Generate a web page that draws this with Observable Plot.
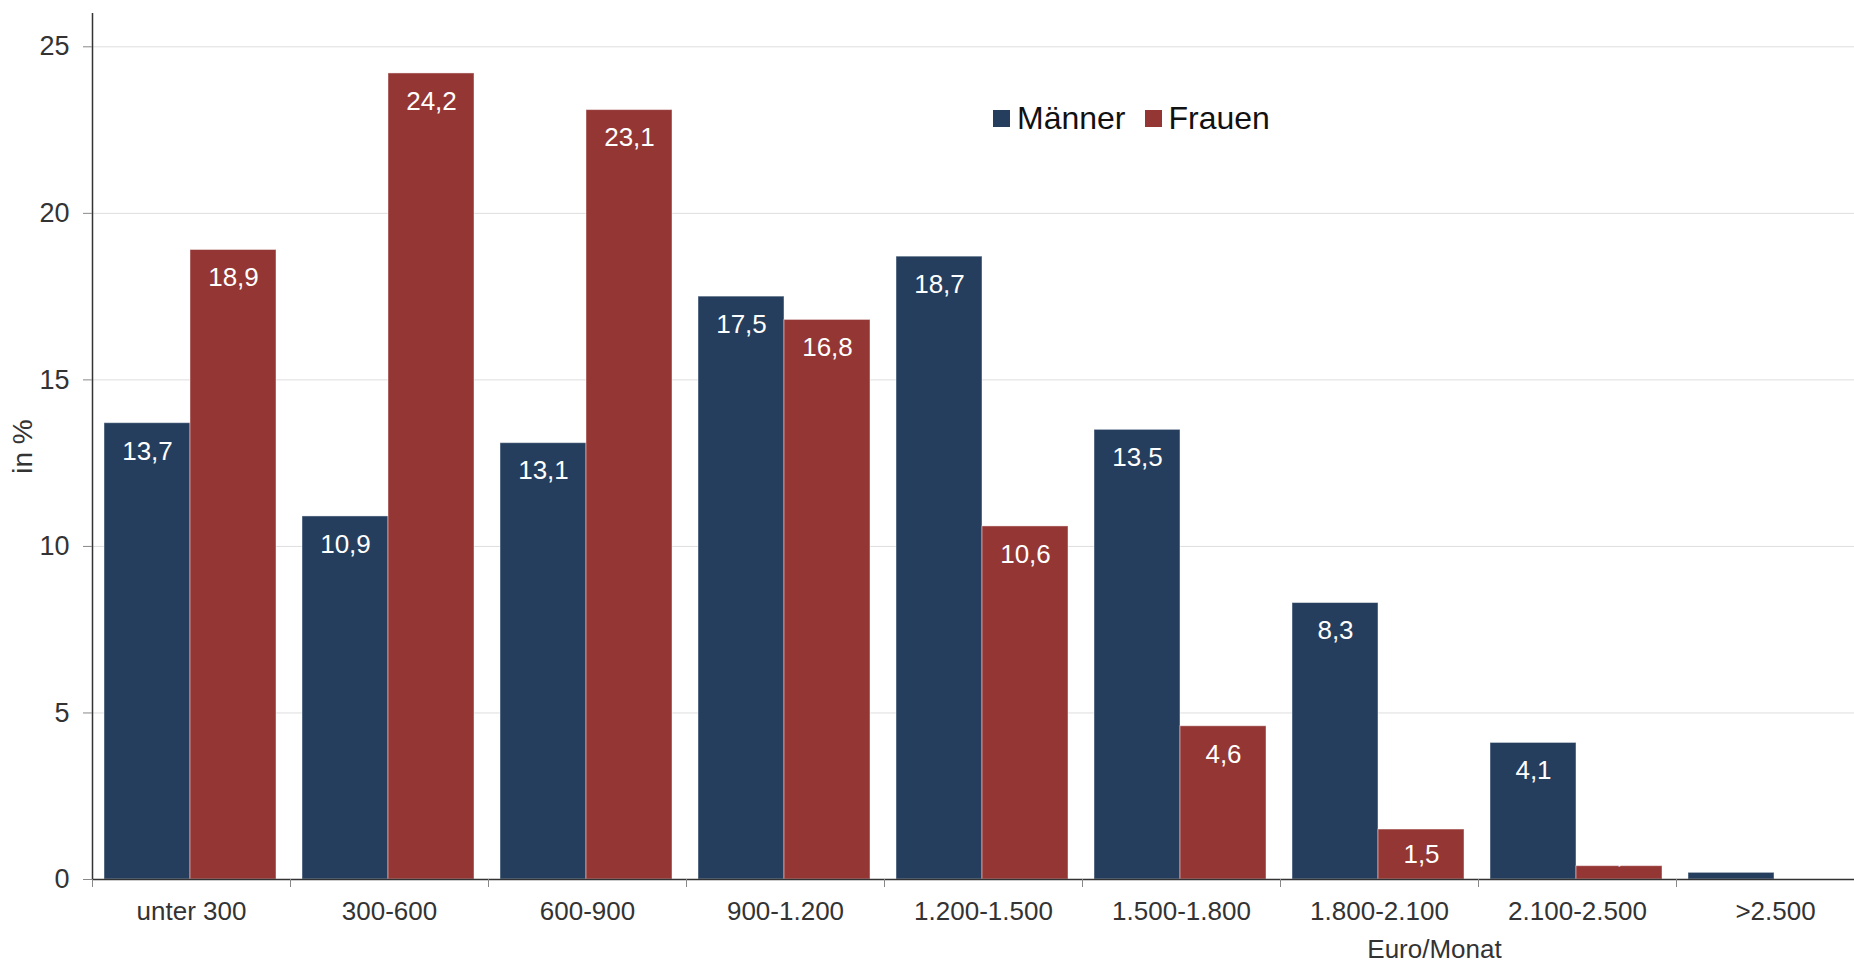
<!DOCTYPE html>
<html>
<head>
<meta charset="utf-8">
<script src="https://cdn.jsdelivr.net/npm/d3@7"></script>
<script src="https://cdn.jsdelivr.net/npm/@observablehq/plot@0.6"></script>
<style>
  html, body { margin: 0; padding: 0; background: #fff; }
  #wrap { position: relative; width: 1854px; height: 963px; overflow: hidden; font-family: "Liberation Sans", Arial, sans-serif; }
  #legend { position: absolute; left: 993px; top: 102px; height: 32px; display: flex; align-items: center; font-size: 32px; line-height: 32px; color: #111; }
  #legend .sw { width: 17px; height: 17px; margin-right: 7px; }
  #legend .it { display: flex; align-items: center; margin-right: 19px; }
</style>
</head>
<body>
<div id="wrap"></div>
<script>
const categories = ["unter 300", "300-600", "600-900", "900-1.200", "1.200-1.500", "1.500-1.800", "1.800-2.100", "2.100-2.500", ">2.500"];
const maenner = [13.7, 10.9, 13.1, 17.5, 18.7, 13.5, 8.3, 4.1, 0.2];
const frauen  = [18.9, 24.2, 23.1, 16.8, 10.6, 4.6, 1.5, 0.4, 0];
const seriesNames = ["Männer", "Frauen"];
const seriesColors = ["#253e5e", "#943634"];
const yTicks = [0, 5, 10, 15, 20, 25];

const rowsM = categories.map((c, i) => ({cat: c, value: maenner[i]})).filter(d => d.value > 0);
const rowsF = categories.map((c, i) => ({cat: c, value: frauen[i]})).filter(d => d.value > 0);
const fmt = v => v.toFixed(1).replace(".", ",");

const font = "Liberation Sans, Arial, sans-serif";

const chart = Plot.plot({
  width: 1854,
  height: 963,
  marginLeft: 92,
  marginRight: 0,
  marginTop: 13,
  marginBottom: 84,
  style: {fontFamily: font, background: "white", color: "#333", overflow: "hidden"},
  x: {type: "band", domain: categories, range: [92, 1874], padding: 0},
  y: {domain: [0, 26]},
  marks: [
    Plot.gridY(yTicks.filter(t => t > 0), {stroke: "#dedede", strokeOpacity: 1}),
    Plot.barY(rowsM, {x: "cat", y: "value", fill: seriesColors[0], insetLeft: 12, insetRight: 100, stroke: "#ffffff", strokeOpacity: 0.45, strokeWidth: 1}),
    Plot.barY(rowsF, {x: "cat", y: "value", fill: seriesColors[1], insetLeft: 98, insetRight: 14, stroke: "#ffffff", strokeOpacity: 0.45, strokeWidth: 1}),
    Plot.text(rowsM, {x: "cat", y: d => Math.max(d.value, 1.6), text: d => fmt(d.value), dx: -44, dy: 28, fill: "white", fontSize: 26, lineAnchor: "middle"}),
    Plot.text(rowsF, {x: "cat", y: d => Math.max(d.value, 1.6), text: d => fmt(d.value), dx: 42, dy: 28, fill: "white", fontSize: 26, lineAnchor: "middle"}),
    Plot.ruleY([0], {stroke: "#333", strokeWidth: 1.5}),
    Plot.ruleX([categories[0]], {dx: -99, stroke: "#333", strokeWidth: 1.5}),
    Plot.axisX({tickSize: 8, dx: -99, tickFormat: () => "", stroke: "#888", label: null}),
    Plot.axisX({tickSize: 0, tickPadding: 22, fontSize: 26, fill: "#333", label: null}),
    Plot.axisY({ticks: yTicks, tickSize: 9, tickPadding: 14, fontSize: 27, fill: "#333", stroke: "#888", label: "in %", labelAnchor: "center", labelOffset: 80, labelArrow: "none", fontSize: 28}),
    Plot.text(["Euro/Monat"], {frameAnchor: "bottom", dx: 461, dy: 70, fontSize: 26, fill: "#333", lineAnchor: "middle"})
  ]
});

const wrap = document.getElementById("wrap");
wrap.appendChild(chart);

// y tick labels slightly smaller than the axis title
chart.querySelectorAll("[aria-label='y-axis tick label'] text").forEach(t => t.setAttribute("font-size", "27"));

const legend = document.createElement("div");
legend.id = "legend";
seriesNames.forEach((name, i) => {
  const it = document.createElement("div");
  it.className = "it";
  const sw = document.createElement("div");
  sw.className = "sw";
  sw.style.background = seriesColors[i];
  sw.style.outline = "1px solid rgba(255,255,255,0.4)";
  const tx = document.createElement("span");
  tx.textContent = name;
  it.appendChild(sw);
  it.appendChild(tx);
  legend.appendChild(it);
});
wrap.appendChild(legend);
</script>
</body>
</html>
